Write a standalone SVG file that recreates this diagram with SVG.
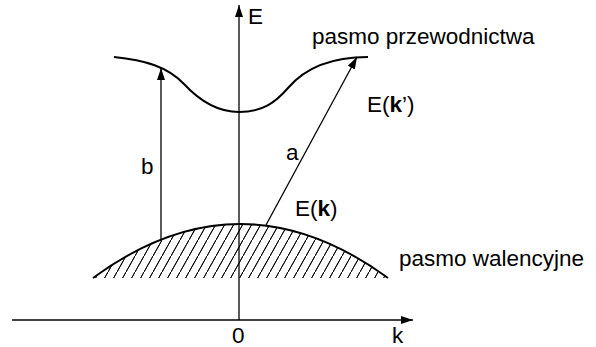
<svg xmlns="http://www.w3.org/2000/svg" width="596" height="347" viewBox="0 0 596 347">
<style>
text{font-family:"Liberation Sans",Arial,sans-serif;font-size:22.5px;fill:#000}
.b{font-weight:bold}
.ax{stroke:#000;stroke-width:1.3;fill:none}
.band{stroke:#000;stroke-width:2;fill:none}
.ar{stroke:#000;stroke-width:1.3;fill:none;marker-end:url(#ah)}
.h{stroke:#000;stroke-width:0.9}
</style>
<defs>
<marker id="ah" markerUnits="userSpaceOnUse" markerWidth="13" markerHeight="9" refX="12" refY="4" orient="auto">
<path d="M0,0 L12,4 L0,8 z" fill="#000"/>
</marker>
<pattern id="hatch" patternUnits="userSpaceOnUse" width="9" height="16">
<path class="h" d="M-4.5,24 L4.5,8 M0,16 L9,0 M4.5,8 L13.5,-8"/>
</pattern>
</defs>
<rect width="596" height="347" fill="#fff"/>
<g id="valence-band">
<path d="M93,278 Q240,170 388,278 Z" fill="url(#hatch)" stroke="none"/>
<path class="band" d="M93,278 Q240,170 388,278"/>
</g>
<g id="conduction-band">
<path class="band" d="M114,57 C145,60 168,67 184,84 C197,98 215,112 239,112 C262,112 275,103 288,88 C305,68 330,57 368,57"/>
</g>
<g id="axes">
<path class="ax" d="M12,320 L413,320" marker-end="url(#ah)"/>
<path class="ax" d="M239,320 L239,5" marker-end="url(#ah)"/>
</g>
<g id="connectors">
<path class="ar" d="M161,240 L161,68"/>
<path class="ar" d="M266,225 L357,57"/>
</g>
<g id="labels">
<text x="248" y="24">E</text>
<text x="232" y="343">0</text>
<text x="392" y="343">k</text>
<text x="141" y="174">b</text>
<text x="286" y="160">a</text>
<text x="312" y="44">pasmo przewodnictwa</text>
<text x="399" y="266">pasmo walencyjne</text>
<text x="367" y="112">E(<tspan class="b">k</tspan>’)</text>
<text x="295" y="216">E(<tspan class="b">k</tspan>)</text>
</g>
</svg>
